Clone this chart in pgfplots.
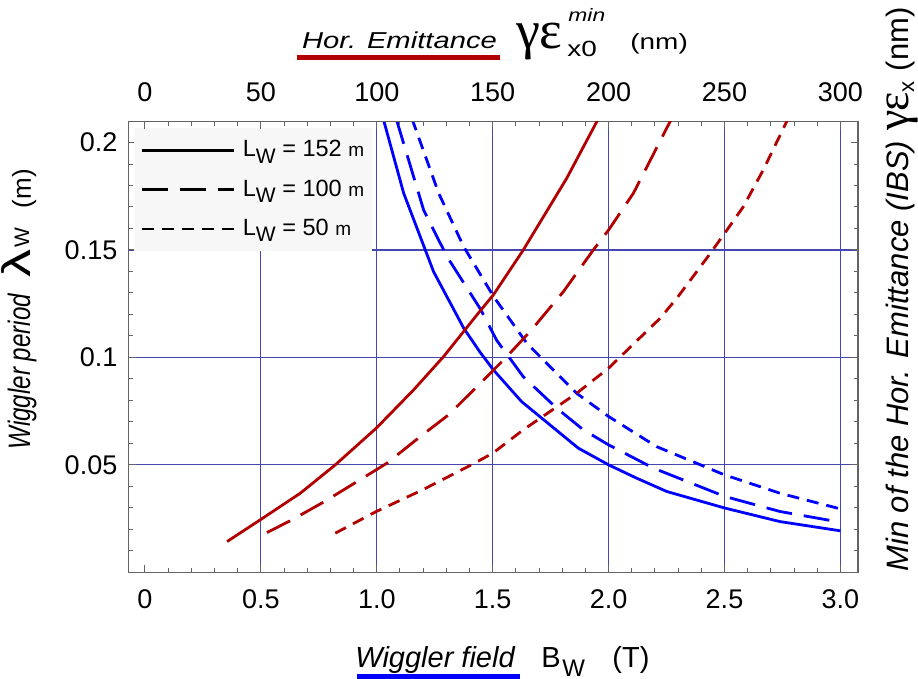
\documentclass[border=0pt]{standalone}
\usepackage{pgfplots}
\pgfplotsset{compat=1.18}
\usepackage{fontspec}
\setmainfont{Liberation Sans}
\newfontfamily\grk{Liberation Serif}
\newfontfamily\stretchit[FakeStretch=1.27]{Liberation Sans}
\newfontfamily\narrowit[FakeStretch=0.78]{Liberation Sans}
\newfontfamily\lamfont[FakeStretch=1.4]{Liberation Sans}
\definecolor{dred}{RGB}{178,0,0}
\definecolor{gridc}{RGB}{70,70,175}
\definecolor{framec}{RGB}{100,100,100}
\definecolor{legbg}{RGB}{247,247,247}

\begin{document}
\begin{tikzpicture}
\pgfplotsset{
  every axis/.append style={
    scale only axis, width=364.65pt, height=225.3pt,
    ymin=0, ymax=0.2097,
    tick align=inside,
    major tick length=3.5pt, minor tick length=2pt,
    every tick/.append style={framec, line width=0.5pt},
    tick label style={font=\fontsize{13.5}{14}\selectfont},
  },
}
\begin{axis}[
  xmin=-0.0703, xmax=3.0759,
  axis line style={framec, line width=0.7pt},
  xtick={0.5,1,1.5,2,2.5,3},
  xticklabels={0.5,1.0,1.5,2.0,2.5,3.0},
  ytick={0.05,0.1,0.15},
  yticklabels={0.05,0.1,0.15},
  extra x ticks={0}, extra x tick labels={0},
  extra y ticks={0.2}, extra y tick labels={0.2},
  extra tick style={grid=none},
  minor xtick={0.1,0.2,0.3,0.4,0.6,0.7,0.8,0.9,1.1,1.2,1.3,1.4,1.6,1.7,1.8,1.9,2.1,2.2,2.3,2.4,2.6,2.7,2.8,2.9},
  minor ytick={0.01,0.02,0.03,0.04,0.06,0.07,0.08,0.09,0.11,0.12,0.13,0.14,0.16,0.17,0.18,0.19},
  xtick pos=left, ytick pos=both,
  yticklabel pos=left,
  grid=major,
  major grid style={gridc, line width=0.6pt},
  xticklabel style={anchor=base, yshift=-18pt},
  yticklabel style={anchor=east, inner sep=0pt, xshift=-5.5pt},
  legend style={at={(0.0069,0.986)}, anchor=north west, fill=legbg, draw=none,
    font=\fontsize{11.75}{12}\selectfont, inner xsep=3pt, inner ysep=5pt,
    row sep=8pt, column sep=3pt, nodes={inner sep=1pt}},
  legend cell align=left,
  legend image code/.code={\draw[#1] (0pt,0pt) -- (46pt,0pt);},
]
\addlegendimage{black, line width=1.4pt}
\addlegendentry{L\raisebox{-0.5ex}{\fontsize{10.5}{10}\selectfont W} = 152 {\fontsize{9.5}{10}\selectfont m}}
\addlegendimage{black, line width=1.4pt, dash pattern=on 13pt off 6pt}
\addlegendentry{L\raisebox{-0.5ex}{\fontsize{10.5}{10}\selectfont W} = 100 {\fontsize{9.5}{10}\selectfont m}}
\addlegendimage{black, line width=1.4pt, dash pattern=on 6pt off 4pt}
\addlegendentry{L\raisebox{-0.5ex}{\fontsize{10.5}{10}\selectfont W} = 50 {\fontsize{9.5}{10}\selectfont m}}

% blue: lambda_W vs B_W
\addplot[blue, line width=1.4pt, forget plot] table {
x y
1.028 0.2110
1.116 0.1764
1.245 0.1399
1.375 0.1136
1.445 0.1025
1.503 0.0942
1.625 0.0794
1.869 0.0578
2.000 0.0500
2.121 0.0438
2.251 0.0376
2.501 0.0299
2.739 0.0236
3.000 0.0193
};
\addplot[blue, line width=1.4pt, dash pattern=on 13pt off 6pt, forget plot] table {
x y
1.084 0.2110
1.202 0.1686
1.303 0.1469
1.447 0.1225
1.517 0.1080
1.632 0.0910
1.776 0.0764
1.891 0.0663
2.000 0.0593
2.193 0.0485
2.501 0.0353
2.739 0.0283
3.000 0.0233
};
\addplot[blue, line width=1.4pt, dash pattern=on 6pt off 4pt, forget plot] table {
x y
1.152 0.2110
1.267 0.1764
1.375 0.1515
1.504 0.1283
1.647 0.1066
1.862 0.0833
2.000 0.0725
2.207 0.0585
2.501 0.0453
2.739 0.0368
3.000 0.0295
};
\end{axis}

\begin{axis}[
  xmin=-7.03, xmax=307.59,
  axis x line*=top, hide y axis,
  x axis line style={-, framec, line width=0.7pt},
  xtick={0,50,100,150,200,250,300},
  xticklabels={0,50,100,150,200,250,300},
  minor xtick={10,20,30,40,60,70,80,90,110,120,130,140,160,170,180,190,210,220,230,240,260,270,280,290},
  xticklabel style={anchor=base, yshift=10pt},
]
% dark red: min horizontal emittance (nm) vs lambda_W
\addplot[dred, line width=1.4pt] table {
x y
35.4 0.0143
49.7 0.0244
67.0 0.0368
82.1 0.0500
99.8 0.0671
115.9 0.0849
128.9 0.1005
143.8 0.1206
150.3 0.1291
163.2 0.1500
181.9 0.1833
194.9 0.2097
196.5 0.2130
};
\addplot[dred, line width=1.4pt, dash pattern=on 13pt off 6pt] table {
x y
52.6 0.0185
62.7 0.0240
77.1 0.0327
91.5 0.0422
104.4 0.0508
118.8 0.0632
131.0 0.0733
143.2 0.0864
155.4 0.0996
166.1 0.1120
180.5 0.1306
193.4 0.1500
200.0 0.1593
210.7 0.1764
226.5 0.2097
228.0 0.2130
};
\addplot[dred, line width=1.4pt, dash pattern=on 6pt off 4pt] table {
x y
82.1 0.0182
99.8 0.0283
120.0 0.0385
140.8 0.0500
150.0 0.0554
163.2 0.0663
186.2 0.0833
200.0 0.0950
222.2 0.1182
229.4 0.1275
242.3 0.1461
250.1 0.1578
258.1 0.1701
266.7 0.1872
276.8 0.2097
278.0 0.2130
};
\end{axis}

\begin{scope}[x=0.5pt, y=-0.5pt, shift={(-64.35pt,286.15pt)}]
\path[use as bounding box] (0,0) rectangle (918,679);
% top title
\node[anchor=base west, inner sep=0pt] at (301.7,48.3)
  {\fontsize{11.5}{12}\stretchit\itshape Hor. Emittance};
\draw[dred, line width=2.6pt] (297,57.5) -- (500,57.5);
\node[anchor=south west, inner sep=0pt] at (516,60)
  {\fontsize{27}{27}\grk γε};
\node[anchor=base west, inner sep=0pt] at (567,57)
  {\fontsize{11}{11}\stretchit x0};
\node[anchor=base west, inner sep=0pt] at (568,21.5)
  {\fontsize{9}{9}\stretchit\itshape min};
\node[anchor=base west, inner sep=0pt] at (630,50)
  {\fontsize{11}{11}\stretchit (nm)};
% bottom label
\node[anchor=base west, inner sep=0pt] at (355,668)
  {\fontsize{14.5}{15}\selectfont\itshape Wiggler field};
\draw[blue, line width=2.5pt] (357,677) -- (520,677);
\node[anchor=base west, inner sep=0pt] at (541,668)
  {\fontsize{14.5}{15}\selectfont B};
\node[anchor=base west, inner sep=0pt] at (562,677)
  {\fontsize{12}{12}\selectfont W};
\node[anchor=base west, inner sep=0pt] at (612,668)
  {\fontsize{14.5}{15}\selectfont (T)};
% left label
\node[anchor=base west, inner sep=0pt, rotate=90] at (31,450)
  {\fontsize{15.5}{16}\narrowit\itshape Wiggler period\hspace{8pt}\upshape
   {\fontsize{20}{20}\lamfont λ}\hspace{1pt}\raisebox{1pt}{\normalfont\fontsize{10.5}{11}\selectfont W}\hspace{10pt}{\normalfont\fontsize{13}{13}\selectfont (m)}};
% right label
\node[anchor=base west, inner sep=0pt, rotate=90] at (908,572)
  {\fontsize{15.5}{16}\selectfont\itshape Min of the Hor. Emittance (IBS)\hspace{5pt}\upshape
   {\fontsize{23}{23}\grk γε}\raisebox{-3pt}{\fontsize{11}{11}\selectfont x}\hspace{5pt}(nm)};
\end{scope}
\end{tikzpicture}
\end{document}
